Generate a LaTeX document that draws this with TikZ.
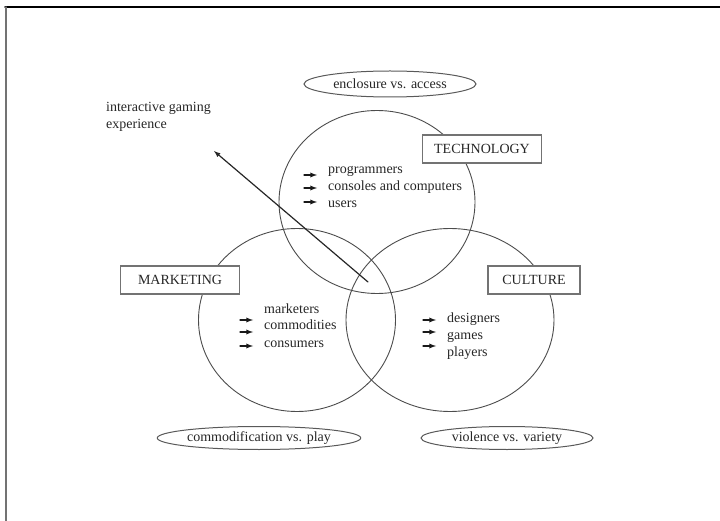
\documentclass[tikz,border=0pt]{standalone}
\usepackage{fontspec}
\setmainfont{Liberation Serif}
\usetikzlibrary{arrows,shapes.geometric}

\begin{document}
\begin{tikzpicture}[x=1pt,y=-1pt,line cap=round]
		\tikzstyle{every node}=[font=\fontsize{14}{17}\selectfont, text=black!85]
		\tikzstyle{venn}=[ellipse, draw=black!70, line width=0.9pt, inner sep=0pt, minimum height=183pt]
		\tikzstyle{dilemma}=[ellipse, draw=black!65, line width=1pt, inner sep=0pt, minimum width=172pt]
		\tikzstyle{fieldbox}=[rectangle, draw=black!55, line width=1.3pt, fill=white, inner sep=0pt, minimum height=28pt]
		\tikzstyle{listitem}=[anchor=base west, inner sep=0pt]
		\tikzstyle{pointer}=[-latex, line width=1.3pt, black!90]

		\useasboundingbox (0,0) rectangle (720,521);

		%frame
		\draw[black, line width=1.4pt] (5,7) -- (720,7);
		\draw[black!55, line width=1.4pt] (6,7) -- (6,521);

		%circles
		\node[venn, minimum width=196pt] (tech) at (377,202) {};
		\node[venn, minimum width=197pt] (mark) at (297,320) {};
		\node[venn, minimum width=208pt] (cult) at (450,320) {};

		%dilemmas
		\node[dilemma, minimum height=26pt] (access) at (390,84) {enclosure vs. access};
		\node[dilemma, minimum height=23pt] (play) at (259,438) {commodification vs. play};
		\node[dilemma, minimum height=23pt] (variety) at (507,438) {violence vs. variety};

		%fields
		\node[fieldbox, minimum width=119pt] (techbox) at (482,149) {TECHNOLOGY};
		\node[fieldbox, minimum width=119pt] (markbox) at (180,280) {MARKETING};
		\node[fieldbox, minimum width=92pt] (cultbox) at (534,280) {CULTURE};

		%lists
		\foreach \txt [count=\i] in {programmers, consoles and computers, users}
			\node[listitem] (tech\i) at (328,157+17*\i) {\txt};
		\foreach \txt [count=\i] in {marketers, commodities, consumers}
			\node[listitem] (mark\i) at (264,296+17*\i) {\txt};
		\foreach \txt [count=\i] in {designers, games, players}
			\node[listitem] (cult\i) at (447,305+17*\i) {\txt};
		\foreach \y in {175,188,202}
			\draw[pointer] (304,\y) -- (317,\y);
		\foreach \y in {320,332,346} {
			\draw[pointer] (240,\y) -- (253,\y);
			\draw[pointer] (423,\y) -- (436,\y);
		}

		%experience
		\node[anchor=base west, align=left, inner sep=0pt] (ige) at (106,129) {interactive gaming\\experience};
		\coordinate (core) at (368,282);
		\coordinate (tip) at (214,151);
		\draw[->, >=latex, line width=1.2pt, black!85] (core) -- (tip);
	\end{tikzpicture}
\end{document}
